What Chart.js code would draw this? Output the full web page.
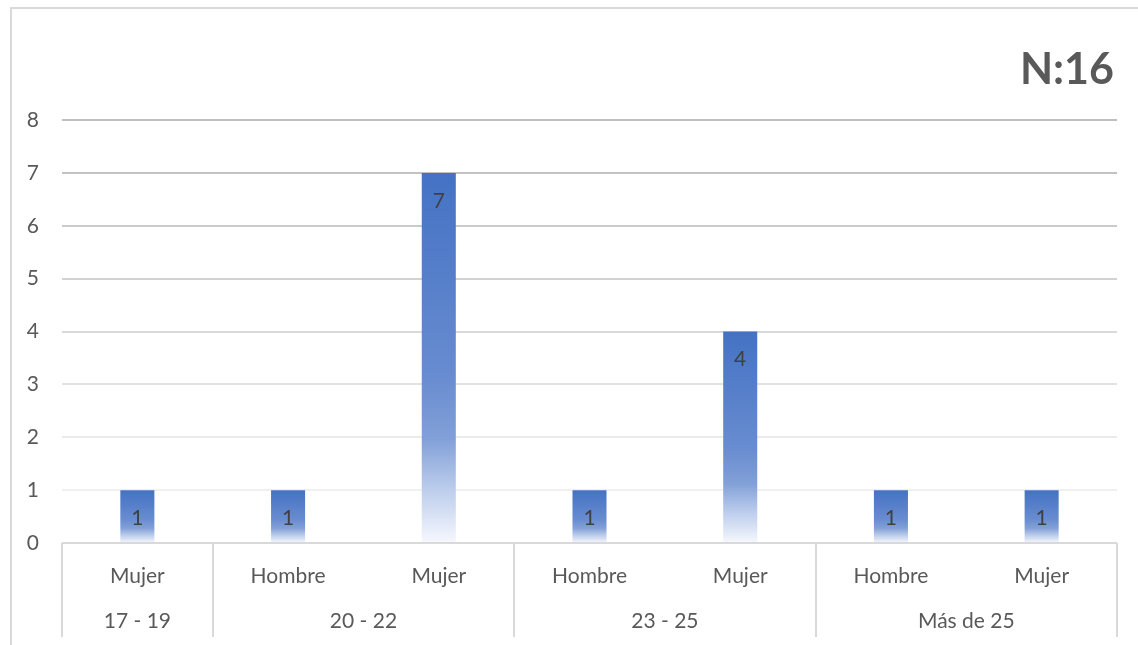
<!DOCTYPE html>
<html>
<head>
<meta charset="utf-8">
<script src="https://cdn.jsdelivr.net/npm/chart.js@4/dist/chart.umd.min.js"></script>
<style>
  html, body { margin: 0; padding: 0; background: #ffffff; }
  #wrap { width: 1138px; height: 645px; position: relative; }
</style>
</head>
<body>
<div id="wrap"><canvas id="c" width="1138" height="645"></canvas></div>
<script>
// ---- data ----
const leafLabels = ['Mujer', 'Hombre', 'Mujer', 'Hombre', 'Mujer', 'Hombre', 'Mujer'];
const groupLabels = ['17 - 19', '20 - 22', '23 - 25', 'Más de 25'];
const groupSizes = [1, 2, 2, 2];
const values = [1, 1, 7, 1, 4, 1, 1];
const yTicks = [0, 1, 2, 3, 4, 5, 6, 7, 8];
const titleText = 'N:16';

const FONT = 'Lato, "Open Sans", sans-serif';
const FSIZE = 21;
const TEXT = '#595959';
const gridColors = {0: '#D9D9D9', 1: '#F0F0F0', 2: '#EAEAEA', 3: '#E2E2E2', 4: '#DADADA', 5: '#D2D2D2', 6: '#CACACA', 7: '#C2C2C2', 8: '#BFBFBF'};

function barGradient(context) {
  const chart = context.chart;
  const y = chart.scales.y;
  if (!chart.chartArea || !y) return '#4472C4';
  const v = context.raw;
  const top = y.getPixelForValue(v);
  const base = y.getPixelForValue(0);
  if (!isFinite(top) || !isFinite(base) || top === base) return '#4472C4';
  const g = chart.ctx.createLinearGradient(0, top, 0, base);
  g.addColorStop(0, 'rgb(68,114,196)');
  g.addColorStop(0.55, 'rgb(104,140,208)');
  g.addColorStop(0.72, 'rgb(130,160,216)');
  g.addColorStop(0.84, 'rgb(182,200,234)');
  g.addColorStop(1, 'rgb(246,248,253)');
  return g;
}

const decorPlugin = {
  id: 'decor',
  beforeDraw(chart) {
    const ctx = chart.ctx;
    ctx.save();
    ctx.fillStyle = '#ffffff';
    ctx.fillRect(0, 0, chart.width, chart.height);
    ctx.strokeStyle = '#D9D9D9';
    ctx.lineWidth = 2;
    ctx.strokeRect(11, 8, 1200, 700);
    ctx.restore();
  },
  afterDraw(chart) {
    const ctx = chart.ctx;
    const x = chart.scales.x;
    const area = chart.chartArea;
    const half = (x.getPixelForValue(1) - x.getPixelForValue(0)) / 2;
    ctx.save();
    // group separators
    ctx.strokeStyle = '#D9D9D9';
    ctx.lineWidth = 2;
    let idx = 0;
    const bounds = [x.getPixelForValue(0) - half];
    groupSizes.forEach(s => { idx += s; bounds.push(x.getPixelForValue(idx - 1) + half); });
    bounds.forEach(bx => {
      ctx.beginPath();
      ctx.moveTo(Math.round(bx), area.bottom);
      ctx.lineTo(Math.round(bx), 637);
      ctx.stroke();
    });
    // group labels
    ctx.fillStyle = TEXT;
    ctx.font = FSIZE + 'px ' + FONT;
    ctx.textAlign = 'center';
    ctx.textBaseline = 'middle';
    groupLabels.forEach((lab, i) => {
      ctx.fillText(lab, (bounds[i] + bounds[i + 1]) / 2, 621);
    });
    // data labels
    ctx.fillStyle = '#404040';
    const meta = chart.getDatasetMeta(0);
    meta.data.forEach((bar, i) => {
      ctx.fillText(String(values[i]), bar.x, bar.y + 28);
    });
    // title
    ctx.font = 'bold 43px ' + FONT;
    ctx.textAlign = 'right';
    ctx.fillStyle = TEXT;
    ctx.fillText(titleText, 1114, 70);
    ctx.restore();
  }
};

new Chart(document.getElementById('c'), {
  type: 'bar',
  data: {
    labels: leafLabels,
    datasets: [{
      data: values,
      backgroundColor: barGradient,
      borderWidth: 0,
      barPercentage: 0.9,
      categoryPercentage: 0.251
    }]
  },
  options: {
    responsive: false,
    animation: false,
    devicePixelRatio: 1,
    layout: { padding: { top: 120, right: 21, bottom: 0, left: 0 } },
    plugins: { legend: { display: false }, tooltip: { enabled: false } },
    scales: {
      x: {
        grid: { display: false },
        border: { display: false },
        ticks: { color: TEXT, font: { family: FONT, size: FSIZE }, padding: 13, maxRotation: 0, autoSkip: false },
        afterFit(s) { s.height = 102; }
      },
      y: {
        min: 0, max: 8,
        afterBuildTicks(s) { s.ticks = yTicks.map(v => ({ value: v })); },
        grid: {
          drawTicks: false,
          lineWidth: 2,
          color: c => gridColors[c.tick ? c.tick.value : 0] || '#D9D9D9'
        },
        border: { display: false },
        ticks: { color: TEXT, font: { family: FONT, size: FSIZE }, padding: 23 },
        afterFit(s) { s.width = 62; }
      }
    }
  },
  plugins: [decorPlugin]
});
</script>
</body>
</html>
